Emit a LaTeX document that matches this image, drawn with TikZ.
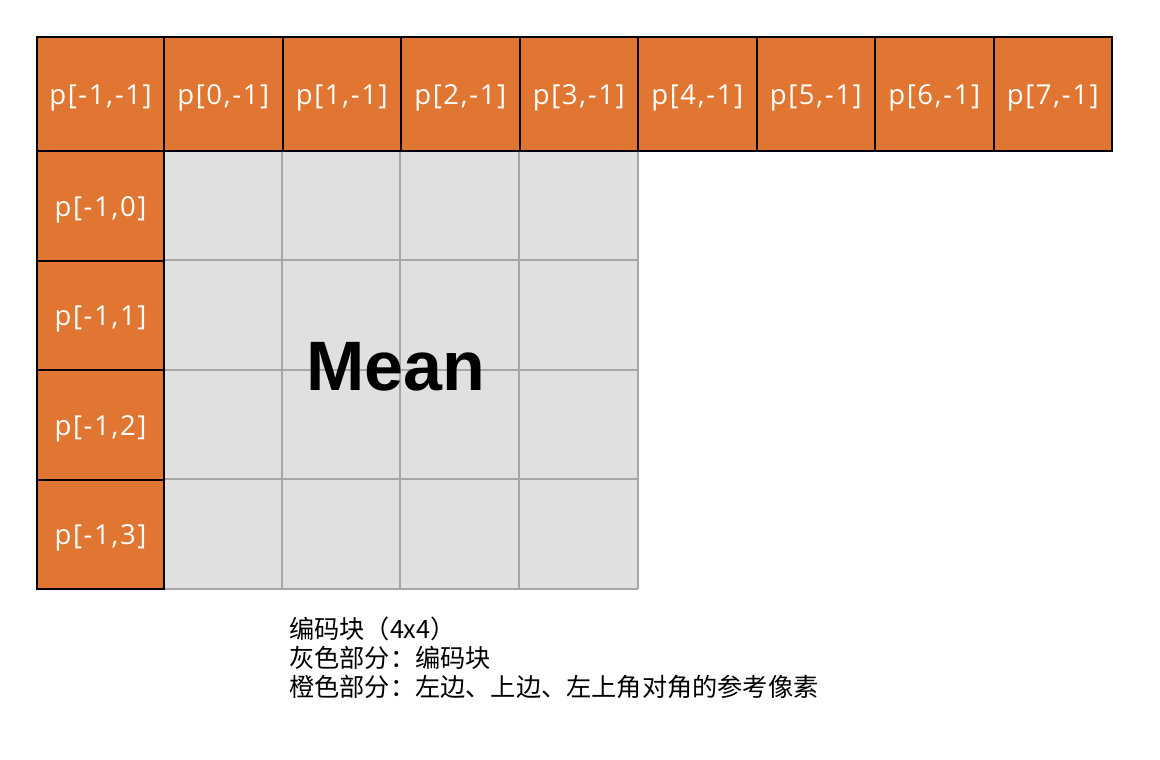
\documentclass[tikz,border=0pt]{standalone}
\usepackage{fontspec}
\setmainfont{Open Sans}
\newfontfamily\pixfont[LetterSpace=6]{Open Sans}
\newfontfamily\cjk{Noto Sans CJK SC}
\newfontfamily\meanfont{Liberation Sans}
\definecolor{refor}{HTML}{E07631}
\definecolor{blkgray}{HTML}{E0E0E0}
\definecolor{gridgray}{HTML}{A6A6A6}
\tikzset{
  refpix/.style={draw=black, line width=2pt, fill=refor, text=white, inner sep=0pt,
    text height=24pt, text depth=3pt, font=\pixfont\fontsize{27.5}{32}\selectfont},
  gridline/.style={draw=gridgray, line width=2pt},
}

\begin{document}
\begin{tikzpicture}[x=1pt,y=-1pt]
  \useasboundingbox (0,0) rectangle (1160,760);
  % coding block (4x4)
  \node[fill=blkgray, inner sep=0pt, minimum width=474pt, minimum height=438pt] (blk) at (401,370) {};
  \foreach \x in {282,400,519,638}
    \draw[gridline] (\x,151) -- (\x,589);
  \foreach \y in {260,370,479,589}
    \draw[gridline] (164,\y) -- (638,\y);
  \node[anchor=base, font=\meanfont\bfseries\fontsize{70}{80}\selectfont] (mean) at (396,390) {Mean};
  % reference pixels
  \node[refpix, minimum width=127pt, minimum height=114pt] (corner) at (100.5,94) {p[-1,-1]};
  \foreach \i in {0,...,7}
    \node[refpix, minimum width=118.5pt, minimum height=114pt] (top\i) at (223.25+118.5*\i,94) {p[\i,-1]};
  \foreach \j in {0,...,3}
    \node[refpix, minimum width=127pt, minimum height=109.5pt] (left\j) at (100.5,205.75+109.5*\j) {p[-1,\j]};
  % legend
  \node[anchor=north west, align=left, inner sep=0pt, font=\cjk\fontsize{25.2}{29}\selectfont] (note) at (289,617)
    {编码块（4x4）\\灰色部分：编码块\\橙色部分：左边、上边、左上角对角的参考像素};
\end{tikzpicture}
\end{document}
